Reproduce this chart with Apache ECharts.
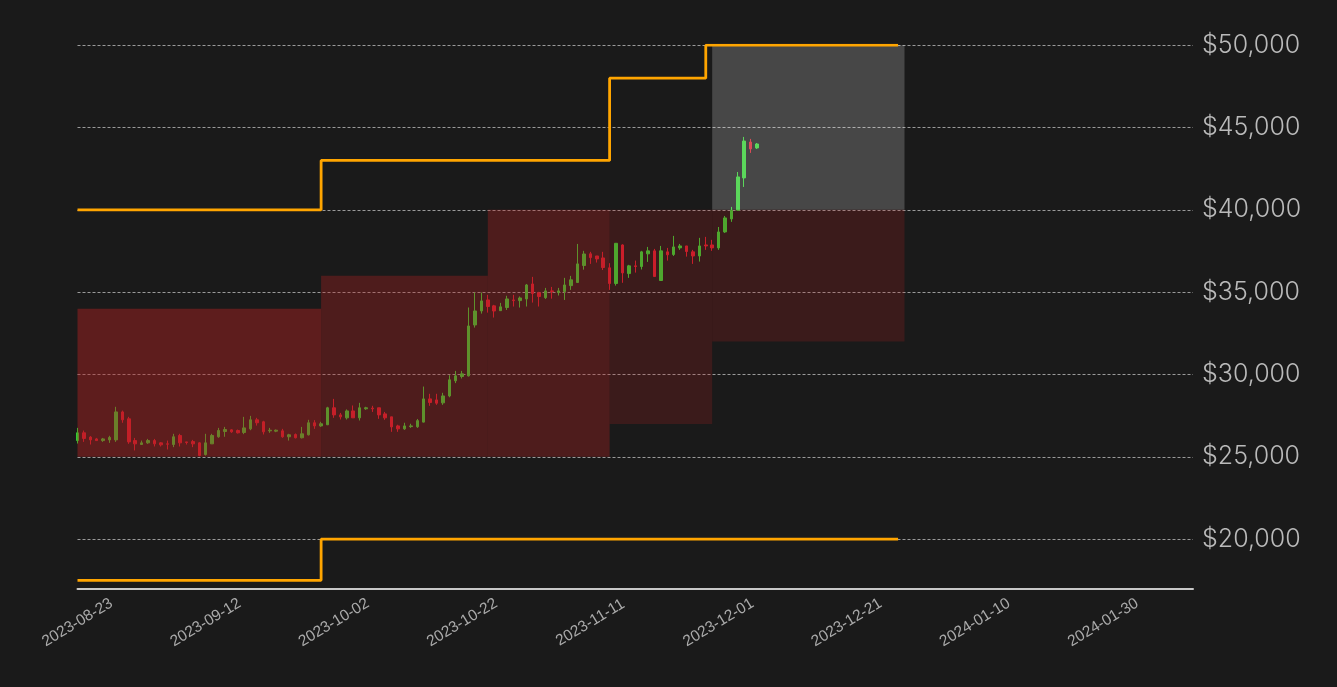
<!DOCTYPE html>
<html><head><meta charset="utf-8">
<script src="https://cdn.jsdelivr.net/npm/echarts@6/dist/echarts.min.js"></script>
<style>html,body{margin:0;padding:0;background:#1a1a1a;}#c{width:1337px;height:687px;}</style>
</head><body><div id="c"></div>
<script>
const dates = [
'2023-08-23','2023-08-24','2023-08-25','2023-08-26','2023-08-27','2023-08-28','2023-08-29','2023-08-30','2023-08-31',
'2023-09-01','2023-09-02','2023-09-03','2023-09-04','2023-09-05','2023-09-06','2023-09-07','2023-09-08','2023-09-09','2023-09-10',
'2023-09-11','2023-09-12','2023-09-13','2023-09-14','2023-09-15','2023-09-16','2023-09-17','2023-09-18','2023-09-19','2023-09-20',
'2023-09-21','2023-09-22','2023-09-23','2023-09-24','2023-09-25','2023-09-26','2023-09-27','2023-09-28','2023-09-29','2023-09-30',
'2023-10-01','2023-10-02','2023-10-03','2023-10-04','2023-10-05','2023-10-06','2023-10-07','2023-10-08','2023-10-09','2023-10-10',
'2023-10-11','2023-10-12','2023-10-13','2023-10-14','2023-10-15','2023-10-16','2023-10-17','2023-10-18','2023-10-19','2023-10-20',
'2023-10-21','2023-10-22','2023-10-23','2023-10-24','2023-10-25','2023-10-26','2023-10-27','2023-10-28','2023-10-29','2023-10-30','2023-10-31',
'2023-11-01','2023-11-02','2023-11-03','2023-11-04','2023-11-05','2023-11-06','2023-11-07','2023-11-08','2023-11-09','2023-11-10',
'2023-11-11','2023-11-12','2023-11-13','2023-11-14','2023-11-15','2023-11-16','2023-11-17','2023-11-18','2023-11-19','2023-11-20',
'2023-11-21','2023-11-22','2023-11-23','2023-11-24','2023-11-25','2023-11-26','2023-11-27','2023-11-28','2023-11-29','2023-11-30',
'2023-12-01','2023-12-02','2023-12-03','2023-12-04','2023-12-05','2023-12-06','2023-12-07'
];
const opens = [
25990,26460,26200,26090,25990,26030,26030,27730,27310,
25990,25750,25850,25990,25850,25790,25750,26300,25910,25930,
25850,25140,25790,26220,26540,26640,26600,26480,26700,27250,
27130,26580,26560,26580,26220,26360,26160,26340,27070,26880,
26950,27980,27550,27370,27790,27370,27920,27960,27980,27610,
27430,26880,26700,26840,26830,27110,28520,28460,28280,28700,
29620,29880,29920,33010,33860,34530,34170,33880,34070,34530,34490,
34590,35500,34960,34670,35080,34980,35040,35400,35590,36620,
37330,37200,37080,36480,35530,37870,36130,36600,36560,37330,
37510,35710,37450,37290,37690,37810,37450,37200,37870,37870,
37690,38660,39450,39980,41940,44120,43760
];
const closes = [
26460,26120,26030,25990,26090,26180,27730,27250,25910,
25790,25850,25990,25790,25730,25770,26220,25850,25870,25790,
25080,25850,26300,26600,26660,26520,26460,26760,27250,27070,
26520,26620,26620,26220,26340,26160,26400,27070,26880,27010,
27980,27550,27430,27790,27370,27980,27980,27920,27550,27370,
26820,26700,26880,26880,27200,28520,28300,28260,28700,29680,
29920,30040,32950,33860,34470,34130,33860,34110,34590,34490,34650,
35440,34920,34740,35080,35040,35080,35440,35750,36720,37320,
37100,37020,36500,35530,37970,36170,36600,36560,37450,37510,
35950,37510,37270,37750,37810,37470,37200,37810,37810,37690,
38660,39510,39980,42000,44180,43700,44000
];
const lows = [
25810,25910,25750,25990,25910,25850,25910,27070,25790,
25390,25750,25790,25630,25630,25450,25590,25630,25750,25590,
25040,25080,25790,26160,26220,26460,26420,26380,26620,26900,
26360,26460,26500,26160,25990,26120,26120,26300,26700,26820,
26930,27370,27270,27270,27370,27210,27860,27730,27310,27250,
26520,26520,26640,26760,26760,27090,28100,28160,28160,28620,
29480,29760,29880,32850,33700,33760,33460,33880,33920,34130,34070,
34130,34370,34130,34590,34610,34800,34530,35140,35590,36370,
36720,36800,36350,35140,35400,35570,35870,36190,36380,36840,
35950,35710,36920,37200,37570,37160,36720,36860,37570,37510,
37570,38600,39270,39980,41390,43460,43700
];
const highs = [
26760,26600,26260,26150,26150,26280,28040,27810,27430,
26150,25990,26090,26090,25890,25990,26400,26400,25910,26030,
25890,26400,26400,26760,26820,26680,26660,27430,27490,27370,
27190,26760,26660,26700,26400,26420,26820,27250,27230,27130,
28040,28520,27670,27880,28120,28280,28040,28100,27980,27730,
27430,26950,27070,27010,27300,29270,28830,28830,28890,29960,
30220,30220,34070,34980,34980,34840,34230,34350,34780,34840,34740,
35500,35930,35020,35260,35320,35260,35870,35990,37930,37510,
37450,37200,37450,36760,37970,37910,36660,36920,37510,37750,
37630,37810,37690,38420,37930,37810,37570,38300,38360,38180,
38960,39630,40180,42300,44430,44310,44060
];

const upperDates = ['2023-08-23','2023-09-30','2023-11-14','2023-11-29','2023-12-29'];
const upperLevels = [40000, 43000, 48000, 50000];
const lowerDates = ['2023-08-23','2023-09-30','2023-12-29'];
const lowerLevels = [17500, 20000];

const zoneStart = ['2023-08-23','2023-09-30','2023-10-26','2023-11-14','2023-11-30','2023-11-30'];
const zoneEnd   = ['2023-09-30','2023-10-26','2023-11-14','2023-11-30','2023-12-30','2023-12-30'];
const zoneLow   = [25000, 25000, 25000, 27000, 32000, 40000];
const zoneHigh  = [34000, 36000, 40000, 40000, 40000, 50000];

const yTicks = [20000, 25000, 30000, 35000, 40000, 45000, 50000];
const xTickLabels = ['2023-08-23','2023-09-12','2023-10-02','2023-10-22','2023-11-11','2023-12-01','2023-12-21','2024-01-10','2024-01-30'];

// styles (kept separate from data)
const zoneColors = ['rgba(178,34,34,0.45)','rgba(178,34,34,0.35)','rgba(178,34,34,0.35)','rgba(178,34,34,0.22)','rgba(178,34,34,0.22)','rgba(255,255,255,0.2)'];

const ORIGIN = Date.UTC(2023, 7, 23);
function dayOf(s) { const p = s.split('-').map(Number); return (Date.UTC(p[0], p[1]-1, p[2]) - ORIGIN) / 86400000; }
function fmtDay(v) { const d = new Date(ORIGIN + Math.round(v) * 86400000); return d.toISOString().slice(0,10); }

const candleData = dates.map((d,i) => [dayOf(d), opens[i], closes[i], lows[i], highs[i]]);
function stepData(ds, lv) { return ds.map((d,i) => [dayOf(d), lv[Math.min(i, lv.length-1)]]); }
const zones = zoneStart.map((s,i) => [
  { xAxis: dayOf(s), yAxis: zoneLow[i], itemStyle: { color: zoneColors[i] } },
  { xAxis: dayOf(zoneEnd[i]), yAxis: zoneHigh[i] }
]);

const chart = echarts.init(document.getElementById('c'), null, { renderer: 'canvas' });
chart.setOption({
  backgroundColor: '#1a1a1a',
  animation: false,
  grid: { left: 77.5, right: 144, top: 45.2, bottom: 98.4, containLabel: false, outerBoundsMode: 'none' },
  xAxis: {
    type: 'value', min: 0, max: 174, interval: 20,
    axisLine: { show: true, lineStyle: { color: '#c8c8c8', width: 2 } },
    axisTick: { show: false },
    splitLine: { show: false },
    axisLabel: {
      color: '#aaaaaa', fontSize: 15.5, fontFamily: 'Liberation Sans',
      rotate: 31, align: 'center', verticalAlign: 'middle', margin: 34,
      showMaxLabel: false, showMinLabel: true,
      formatter: v => fmtDay(v)
    }
  },
  yAxis: {
    type: 'value', position: 'right', min: 17000, max: 50000,
    axisLine: { show: false },
    axisTick: { show: false, customValues: yTicks },
    axisLabel: {
      customValues: yTicks, color: '#bababa', fontSize: 25, fontFamily: 'Inter', fontWeight: 300, margin: 9,
      padding: [9, 0, 0, 0],
      formatter: v => '$' + Number(v).toLocaleString('en-US')
    },
    splitLine: { show: true, lineStyle: { color: '#9a9a9a', width: 1, type: [3, 2] } }
  },
  series: [
    {
      type: 'candlestick', z: 2, clip: true,
      data: candleData, encode: { x: 0, y: [1, 2, 3, 4] },
      barWidth: 3,
      itemStyle: { color: '#32cd32', color0: '#d21e2d', borderColor: '#32cd32', borderColor0: '#d21e2d', borderWidth: 1 }
    },
    {
      type: 'line', z: 10, data: [], silent: true,
      markArea: { silent: true, z: 10, data: zones }
    },
    {
      type: 'line', z: 20, step: 'end', symbol: 'none', silent: true,
      data: stepData(upperDates, upperLevels),
      lineStyle: { color: '#ffa500', width: 2.8 }
    },
    {
      type: 'line', z: 20, step: 'end', symbol: 'none', silent: true,
      data: stepData(lowerDates, lowerLevels),
      lineStyle: { color: '#ffa500', width: 2.8 }
    }
  ]
});
</script></body></html>
